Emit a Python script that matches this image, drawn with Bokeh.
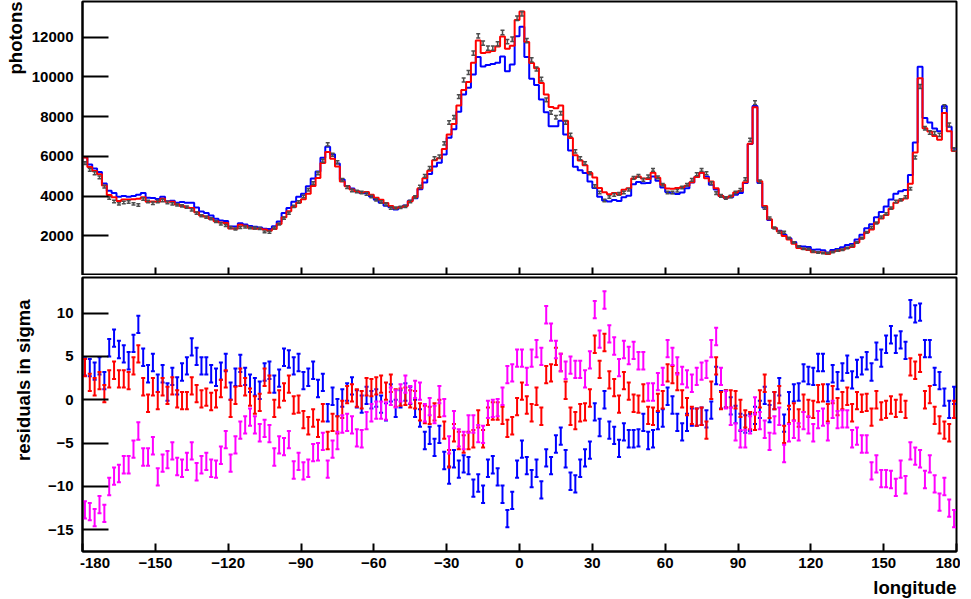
import numpy as np
from bokeh.plotting import figure
from bokeh.layouts import column
from bokeh.models import FixedTicker, Title, Range1d
from bokeh.embed import file_html
from bokeh.resources import INLINE

# ---------------- data ----------------
# 2-degree longitude bins, centres from -179 to 179
longitude = list(range(-179, 180, 2))

photons = [
    5660, 5320, 5150, 4940, 4480, 3900, 3730, 3610, 3680, 3700,
    3610, 3550, 3850, 3730, 3640, 3730, 3780, 3680, 3610, 3560,
    3510, 3440, 3310, 3140, 3010, 2940, 2860, 2720, 2600, 2520,
    2420, 2340, 2420, 2440, 2400, 2390, 2370, 2200, 2180, 2390,
    2590, 2890, 3140, 3480, 3700, 3980, 4320, 4650, 5150, 5780,
    6600, 6080, 5710, 4820, 4450, 4280, 4230, 4180, 4110, 3980,
    3810, 3700, 3590, 3390, 3390, 3430, 3480, 3730, 3950, 4480,
    5020, 5410, 5910, 5990, 6660, 7700, 7970, 9010, 9850, 10220,
    11200, 12070, 11700, 11450, 11450, 11670, 12240, 11780, 11900, 12960,
    13180, 11830, 10860, 10400, 9890, 8850, 8210, 7970, 8170, 7700,
    7080, 6250, 5910, 5660, 5150, 4500, 4180, 3780, 3950, 4060,
    4110, 4180, 4320, 4920, 5020, 4820, 4990, 5320, 4940, 4570,
    4180, 4180, 4270, 4430, 4570, 4820, 5100, 5320, 5150, 4650,
    4150, 4010, 3900, 3980, 4180, 4320, 4850, 6830, 8710, 4740,
    3390, 2890, 2390, 2180, 2180, 1880, 1660, 1460, 1350, 1330,
    1210, 1160, 1130, 1130, 1180, 1260, 1300, 1380, 1500, 1660,
    1880, 2170, 2420, 2640, 2940, 3110, 3390, 3730, 3810, 3950,
    4370, 5940, 9520, 7420, 7200, 7170, 7080, 8510, 7590, 6360,
]

model_blue = [
    5950, 5590, 5390, 5210, 4630, 4270, 4160, 3960, 4000, 3970,
    4000, 4070, 4150, 3910, 3900, 3850, 3970, 3740, 3770, 3660,
    3700, 3670, 3660, 3420, 3220, 3150, 3020, 2860, 2770, 2740,
    2470, 2470, 2630, 2570, 2490, 2460, 2420, 2350, 2340, 2480,
    2720, 3150, 3400, 3710, 3960, 4120, 4490, 4880, 5240, 5930,
    6480, 6110, 5640, 4830, 4510, 4380, 4240, 4150, 4140, 3980,
    3820, 3670, 3510, 3440, 3330, 3440, 3530, 3760, 3890, 4340,
    4690, 5110, 5490, 5680, 6090, 6940, 7360, 8250, 9120, 9450,
    10120, 11010, 10520, 10600, 10650, 10710, 11030, 10290, 10630, 12050,
    12530, 11000, 9910, 9590, 8860, 8220, 7520, 7520, 7790, 7100,
    6290, 5480, 5300, 5160, 4730, 4410, 3970, 3780, 3730, 3800,
    3750, 3940, 4020, 4600, 4710, 4640, 4660, 4990, 4770, 4430,
    4210, 4140, 4100, 4180, 4390, 4680, 4960, 5180, 4990, 4570,
    4330, 4010, 3910, 3940, 4070, 4150, 4660, 6620, 8540, 4660,
    3420, 2800, 2390, 2250, 2050, 1880, 1690, 1490, 1460, 1430,
    1300, 1310, 1270, 1160, 1280, 1340, 1420, 1530, 1590, 1810,
    2050, 2380, 2580, 2930, 3200, 3470, 3830, 4120, 4240, 4310,
    5060, 6700, 10510, 7930, 7700, 7400, 7270, 8540, 7490, 6400,
]

model_red = [
    5940, 5470, 5260, 5100, 4530, 4050, 3940, 3750, 3830, 3830,
    3840, 3860, 3940, 3710, 3730, 3720, 3870, 3710, 3710, 3570,
    3500, 3430, 3400, 3180, 3020, 2960, 2850, 2730, 2670, 2640,
    2370, 2360, 2550, 2510, 2410, 2360, 2360, 2320, 2260, 2340,
    2600, 2940, 3240, 3450, 3670, 3840, 4120, 4510, 4910, 5670,
    6220, 5880, 5490, 4740, 4490, 4330, 4240, 4180, 4210, 4070,
    3910, 3810, 3650, 3500, 3400, 3450, 3500, 3740, 3950, 4390,
    4900, 5280, 5800, 5910, 6370, 7100, 7630, 8560, 9340, 9750,
    10720, 11830, 11210, 11250, 11310, 11530, 12040, 11420, 11570, 12870,
    13300, 11760, 10700, 10440, 9700, 9120, 8490, 8420, 8560, 7800,
    6920, 6060, 5790, 5550, 5160, 4930, 4410, 4190, 4090, 4150,
    4080, 4320, 4390, 4890, 4980, 4880, 4860, 5180, 4920, 4570,
    4380, 4370, 4410, 4440, 4520, 4700, 4960, 5180, 4900, 4730,
    4400, 4000, 3910, 3990, 4180, 4250, 4700, 6630, 8480, 4750,
    3500, 2830, 2390, 2210, 1990, 1810, 1600, 1380, 1340, 1290,
    1170, 1180, 1160, 1080, 1200, 1230, 1300, 1390, 1440, 1660,
    1860, 2160, 2320, 2640, 2870, 3050, 3360, 3670, 3790, 3880,
    4620, 6200, 9930, 7420, 7250, 7020, 6840, 8190, 7260, 6270,
]

resid_blue = [
    3.8, 3.7, 3.3, 3.9, 2.2, 6.0, 7.1, 5.8, 5.3, 4.5,
    6.5, 8.7, 4.9, 3.0, 4.3, 1.9, 3.0, 0.9, 2.7, 1.6,
    3.2, 3.9, 6.1, 5.0, 3.9, 3.9, 3.0, 2.6, 3.3, 4.3,
    1.0, 2.6, 4.2, 2.7, 1.9, 1.5, 1.1, 3.2, 3.4, 1.8,
    2.5, 4.9, 4.7, 3.9, 4.3, 2.2, 2.6, 3.4, 1.3, 2.0,
    -1.5, 0.4, -0.9, 0.2, 0.9, 1.6, 0.1, -0.5, 0.5, 0.0,
    0.2, -0.5, -1.4, 0.8, -1.0, 0.1, 0.9, 0.5, -1.0, -2.1,
    -4.7, -4.1, -5.5, -4.0, -7.0, -8.7, -6.8, -8.0, -7.4, -7.6,
    -10.2, -9.6, -10.9, -7.9, -7.5, -8.9, -10.9, -13.7, -11.6, -8.0,
    -5.7, -7.6, -9.1, -7.9, -10.4, -6.7, -7.6, -5.1, -4.2, -6.8,
    -9.4, -9.7, -7.9, -6.7, -5.8, -1.4, -3.2, 0.0, -3.5, -4.1,
    -5.6, -3.7, -4.5, -4.5, -4.4, -2.6, -4.7, -4.5, -2.4, -2.1,
    0.4, -0.6, -2.6, -3.7, -2.6, -2.0, -2.0, -1.9, -2.2, -1.2,
    2.8, 0.0, 0.1, -0.7, -1.7, -2.6, -2.8, -2.6, -1.8, -1.1,
    0.5, -1.6, -0.1, 1.5, -2.7, -0.1, 0.8, 0.9, 3.1, 2.8,
    2.7, 4.3, 4.3, 0.8, 3.0, 2.2, 3.2, 4.1, 2.3, 3.6,
    3.9, 4.5, 3.2, 5.6, 4.8, 6.4, 7.5, 6.4, 6.9, 5.7,
    10.5, 9.9, 10.1, 5.9, 5.9, 2.7, 2.2, 0.3, -1.1, 0.5,
]

resid_red = [
    3.7, 2.0, 1.5, 2.2, 0.7, 2.4, 3.4, 2.4, 2.4, 2.2,
    3.9, 5.3, 1.5, -0.4, 1.5, -0.1, 1.5, 0.5, 1.6, 0.1,
    -0.1, -0.1, 1.6, 0.7, 0.1, 0.3, -0.2, 0.1, 1.3, 2.4,
    -1.0, 0.5, 2.6, 1.5, 0.3, -0.6, -0.3, 2.6, 1.8, -1.0,
    0.1, 0.9, 1.8, -0.6, -0.5, -2.3, -3.0, -2.1, -3.3, -1.5,
    -4.7, -2.6, -2.9, -1.1, 0.6, 0.8, 0.2, 0.0, 1.5, 1.4,
    1.6, 1.8, 1.0, 1.9, 0.2, 0.3, 0.4, 0.1, 0.0, -1.4,
    -1.7, -1.8, -1.4, -1.0, -3.5, -6.8, -3.8, -4.7, -5.1, -4.7,
    -4.5, -2.2, -4.5, -1.9, -1.3, -1.3, -1.8, -3.3, -3.0, -0.8,
    1.0, -0.6, -1.5, 0.4, -1.9, 2.9, 3.1, 5.0, 4.3, 1.1,
    -1.9, -2.4, -1.5, -1.4, 0.2, 6.4, 3.5, 6.6, 2.3, 1.4,
    -0.5, 2.2, 1.0, -0.4, -0.5, 0.8, -1.8, -1.9, -0.3, 0.0,
    3.1, 2.9, 2.1, 0.1, -0.8, -1.8, -2.0, -1.9, -3.5, 1.1,
    3.9, -0.1, 0.1, 0.1, 0.0, -1.0, -2.2, -2.4, -2.5, 0.1,
    1.9, -1.1, -0.1, 0.6, -4.0, -1.7, -1.4, -2.1, -0.4, -1.0,
    -1.1, 0.7, 0.8, -1.5, 0.6, -0.8, -0.1, 0.4, -1.5, -0.1,
    -0.4, -0.3, -2.0, 0.0, -1.3, -1.1, -0.6, -1.0, -0.4, -1.1,
    3.8, 3.4, 4.2, 0.0, 0.6, -1.8, -2.9, -3.5, -3.8, -1.1,
]

resid_magenta = [
    -12.7, -12.9, -13.6, -12.1, -13.1, -10.0, -8.8, -8.5, -7.5, -7.5,
    -5.7, -3.6, -6.6, -6.6, -5.3, -8.9, -7.3, -6.9, -5.9, -7.7,
    -7.9, -7.1, -5.9, -8.3, -7.5, -7.1, -7.9, -8.0, -6.4, -4.6,
    -7.3, -5.2, -3.5, -2.9, -2.0, -2.9, -3.8, -3.3, -3.9, -6.6,
    -5.2, -5.4, -4.6, -8.1, -7.1, -8.2, -7.9, -6.1, -6.0, -4.8,
    -8.0, -5.7, -4.7, -2.8, -2.6, -2.9, -4.4, -4.5, -2.4, -1.5,
    -1.2, -1.2, -1.3, 0.4, 0.1, 0.8, 1.8, 0.6, 1.2, 1.0,
    -1.5, -0.8, -1.7, 0.6, -0.9, -5.2, -2.3, -4.4, -4.7, -2.8,
    -2.8, -3.9, -4.0, -1.1, -1.0, -0.9, 0.4, 2.9, 3.1, 4.8,
    4.8, 2.7, 4.8, 5.9, 5.0, 9.8, 7.8, 5.8, 4.3, 3.4,
    4.0, 3.5, 3.5, 2.4, 4.6, 10.4, 7.0, 11.5, 7.6, 6.2,
    3.7, 5.8, 5.1, 5.7, 4.5, 4.5, 0.9, 0.9, 2.1, 2.7,
    5.9, 5.0, 3.9, 2.8, 2.4, 1.9, 2.7, 3.3, 3.5, 5.9,
    7.3, 2.7, 0.0, -1.9, -3.7, -4.5, -4.5, -2.9, -0.7, -2.4,
    -3.4, -4.8, -2.9, -1.9, -6.2, -3.8, -3.4, -3.7, -2.4, -2.9,
    -3.8, -2.3, -2.0, -3.7, -1.1, -2.3, -2.2, -2.2, -4.5, -4.2,
    -5.1, -5.1, -8.2, -7.4, -9.1, -9.1, -9.2, -10.1, -8.0, -9.8,
    -5.9, -6.5, -6.8, -9.2, -7.4, -9.7, -11.8, -10.0, -12.5, -13.7,
]

x_ticks = [-180, -150, -120, -90, -60, -30, 0, 30, 60, 90, 120, 150, 180]
photon_ticks = [2000, 4000, 6000, 8000, 10000, 12000]
resid_ticks = [-15, -10, -5, 0, 5, 10]

# ---------------- styling ----------------
FONT = "Liberation Sans"
BLUE, RED, MAGENTA, GREY = "#0000ff", "#ff0000", "#ff00ff", "#4d4d4d"
FRAME_W, FRAME_H = 874, 274
LEFT, RIGHT = 82, 4
NBSP = "\u00a0"


def style(p, yticks, xticks, tick_in_y=26, tick_in_x=8):
    p.grid.visible = False
    p.outline_line_color = "black"
    p.outline_line_width = 2
    p.background_fill_color = "white"
    p.border_fill_color = "white"
    for ax in (p.xaxis[0], p.yaxis[0]):
        ax.axis_line_width = 2
        ax.axis_line_color = "black"
        ax.major_tick_line_width = 2
        ax.major_tick_line_color = "black"
        ax.minor_tick_line_color = None
        ax.major_tick_out = 0
        ax.major_label_text_font = FONT
        ax.major_label_text_font_style = "bold"
        ax.major_label_text_font_size = "15px"
        ax.major_label_text_color = "black"
    p.yaxis[0].ticker = FixedTicker(ticks=yticks)
    p.xaxis[0].ticker = FixedTicker(ticks=xticks)
    p.yaxis[0].major_tick_in = tick_in_y
    p.xaxis[0].major_tick_in = tick_in_x
    p.yaxis[0].major_label_standoff = 9
    p.title.text_font = FONT
    p.title.text_font_style = "bold"
    p.title.text_font_size = "18.5px"
    p.title.text_color = "black"
    p.title.align = "right"
    p.title.vertical_align = "top"
    p.title.offset = 0


lon = np.array(longitude, dtype=float)
edges = np.append(lon - 1.0, 180.0)


def stepped(v):
    v = np.asarray(v, dtype=float)
    return np.append(v, v[-1])


# ---------------- top panel ----------------
p1 = figure(frame_width=FRAME_W, frame_height=FRAME_H,
            x_range=Range1d(-180, 180), y_range=Range1d(0, 13800),
            title="photons", title_location="left",
            min_border_left=LEFT, min_border_right=RIGHT,
            min_border_top=1, min_border_bottom=0,
            output_backend="svg", toolbar_location=None)
style(p1, photon_ticks, x_ticks[1:-1])
p1.title.standoff = 2
p1.xaxis[0].major_label_overrides = {t: "" for t in x_ticks}
p1.xaxis[0].major_label_standoff = 0
p1.xaxis[0].major_label_text_font_size = "1px"

p1.step(edges, stepped(model_blue), mode="after", line_color=BLUE, line_width=2)
p1.step(edges, stepped(model_red), mode="after", line_color=RED, line_width=2)

ph = np.array(photons, dtype=float)
err = np.sqrt(ph)  # Poisson error bars
p1.segment(x0=lon, y0=ph - err, x1=lon, y1=ph + err, line_color=GREY, line_width=1.5)
p1.scatter(lon, ph + err, marker="dash", size=4, line_color=GREY, line_width=1.5)
p1.scatter(lon, ph - err, marker="dash", size=4, line_color=GREY, line_width=1.5)

# ---------------- bottom panel ----------------
p2 = figure(frame_width=FRAME_W, frame_height=FRAME_H,
            x_range=Range1d(-180, 180), y_range=Range1d(-17.5, 14.1),
            title="residuals in sigma", title_location="left",
            min_border_left=LEFT, min_border_right=RIGHT,
            min_border_top=2, min_border_bottom=0,
            output_backend="svg", toolbar_location=None)
style(p2, resid_ticks, x_ticks)
p2.title.standoff = 20
p2.title.offset = 22
p2.xaxis[0].major_label_standoff = 2
# keep the first label inside the frame, as in the original
p2.xaxis[0].major_label_overrides = {-180: NBSP * 6 + "-180"}

for vals, col in ((resid_blue, BLUE), (resid_red, RED), (resid_magenta, MAGENTA)):
    r = np.array(vals, dtype=float)
    p2.segment(x0=lon, y0=r - 1, x1=lon, y1=r + 1, line_color=col, line_width=2)
    p2.scatter(lon, r + 1, marker="dash", size=4, line_color=col, line_width=2)
    p2.scatter(lon, r - 1, marker="dash", size=4, line_color=col, line_width=2)

p2.add_layout(Title(text="longitude", align="right", text_font=FONT, text_color="black",
                    text_font_style="bold", text_font_size="18.5px", standoff=2, offset=0),
              "below")

layout = column(p1, p2, spacing=0)
open("out.html", "w").write(file_html(layout, INLINE))
